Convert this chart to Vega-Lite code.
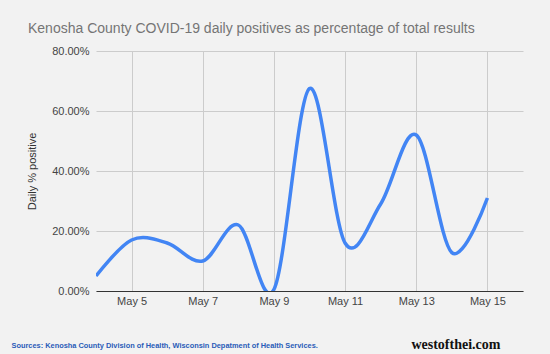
{
  "$schema": "https://vega.github.io/schema/vega-lite/v6.json",
  "autosize": {"type": "none"},
  "width": 427,
  "height": 240,
  "padding": {"left": 96, "top": 51, "right": 27, "bottom": 63},
  "background": "#f2f2f2",
  "title": {
    "text": "Kenosha County COVID-19 daily positives as percentage of total results",
    "anchor": "start",
    "frame": "group",
    "dx": -68,
    "offset": 9,
    "font": "Liberation Sans",
    "fontSize": 14,
    "fontWeight": "normal",
    "color": "#757575"
  },
  "config": {
    "view": {"stroke": null},
    "axis": {"labelFont": "Liberation Sans", "titleFont": "Liberation Sans"}
  },
  "data": {
    "values": [
      {"date": "2020-05-04T00:00:00", "pct": 0.05},
      {"date": "2020-05-05T00:00:00", "pct": 0.17},
      {"date": "2020-05-06T00:00:00", "pct": 0.16},
      {"date": "2020-05-07T00:00:00", "pct": 0.10},
      {"date": "2020-05-08T00:00:00", "pct": 0.22},
      {"date": "2020-05-09T00:00:00", "pct": 0.005},
      {"date": "2020-05-10T00:00:00", "pct": 0.675},
      {"date": "2020-05-11T00:00:00", "pct": 0.16},
      {"date": "2020-05-12T00:00:00", "pct": 0.29},
      {"date": "2020-05-13T00:00:00", "pct": 0.52},
      {"date": "2020-05-14T00:00:00", "pct": 0.128},
      {"date": "2020-05-15T00:00:00", "pct": 0.31}
    ]
  },
  "layer": [
    {
      "mark": {"type": "line", "interpolate": "cardinal", "color": "#4285f4", "strokeWidth": 3.5, "clip": true},
      "encoding": {
        "x": {
          "field": "date",
          "type": "temporal",
          "scale": {"domain": [{"year": 2020, "month": 5, "date": 4}, {"year": 2020, "month": 5, "date": 16}]},
          "axis": {
            "values": [
              {"year": 2020, "month": 5, "date": 5},
              {"year": 2020, "month": 5, "date": 7},
              {"year": 2020, "month": 5, "date": 9},
              {"year": 2020, "month": 5, "date": 11},
              {"year": 2020, "month": 5, "date": 13},
              {"year": 2020, "month": 5, "date": 15}
            ],
            "format": "%b %-d",
            "labelFontSize": 11,
            "labelColor": "#444444",
            "labelPadding": 4,
            "labelFlush": false,
            "ticks": false,
            "grid": true,
            "gridColor": "#cccccc",
            "domainColor": "#333333",
            "domainWidth": 1.2,
            "title": "Sources: Kenosha County Division of Health, Wisconsin Depatment of Health Services.",
            "titleX": -85,
            "titleY": 54,
            "titleAlign": "left",
            "titleBaseline": "middle",
            "titleAnchor": "start",
            "titleFont": "Liberation Sans",
            "titleFontSize": 7.4,
            "titleFontWeight": "bold",
            "titleColor": "#2a5cb8"
          }
        },
        "y": {
          "field": "pct",
          "type": "quantitative",
          "scale": {"domain": [0, 0.8], "nice": false},
          "axis": {
            "values": [0, 0.2, 0.4, 0.6, 0.8],
            "format": ".2%",
            "labelFontSize": 11,
            "labelColor": "#444444",
            "labelPadding": 7,
            "ticks": false,
            "domain": false,
            "grid": true,
            "gridColor": "#cccccc",
            "title": "Daily % positive",
            "titleFontSize": 11,
            "titleFontWeight": "normal",
            "titleColor": "#333333",
            "titleAngle": -90,
            "titleX": -64,
            "titleY": 120,
            "titleAlign": "center",
            "titleBaseline": "middle"
          }
        }
      }
    },
    {
      "data": {"values": [{"label": "westofthei.com"}]},
      "mark": {"type": "text", "align": "right", "baseline": "middle", "dx": 13, "font": "Liberation Serif", "fontSize": 14, "fontWeight": "bold", "color": "#111111"},
      "encoding": {
        "text": {"field": "label"},
        "x": {"datum": {"year": 2020, "month": 5, "date": 15}, "type": "temporal"},
        "y": {"datum": -0.18, "type": "quantitative"}
      }
    }
  ]
}
